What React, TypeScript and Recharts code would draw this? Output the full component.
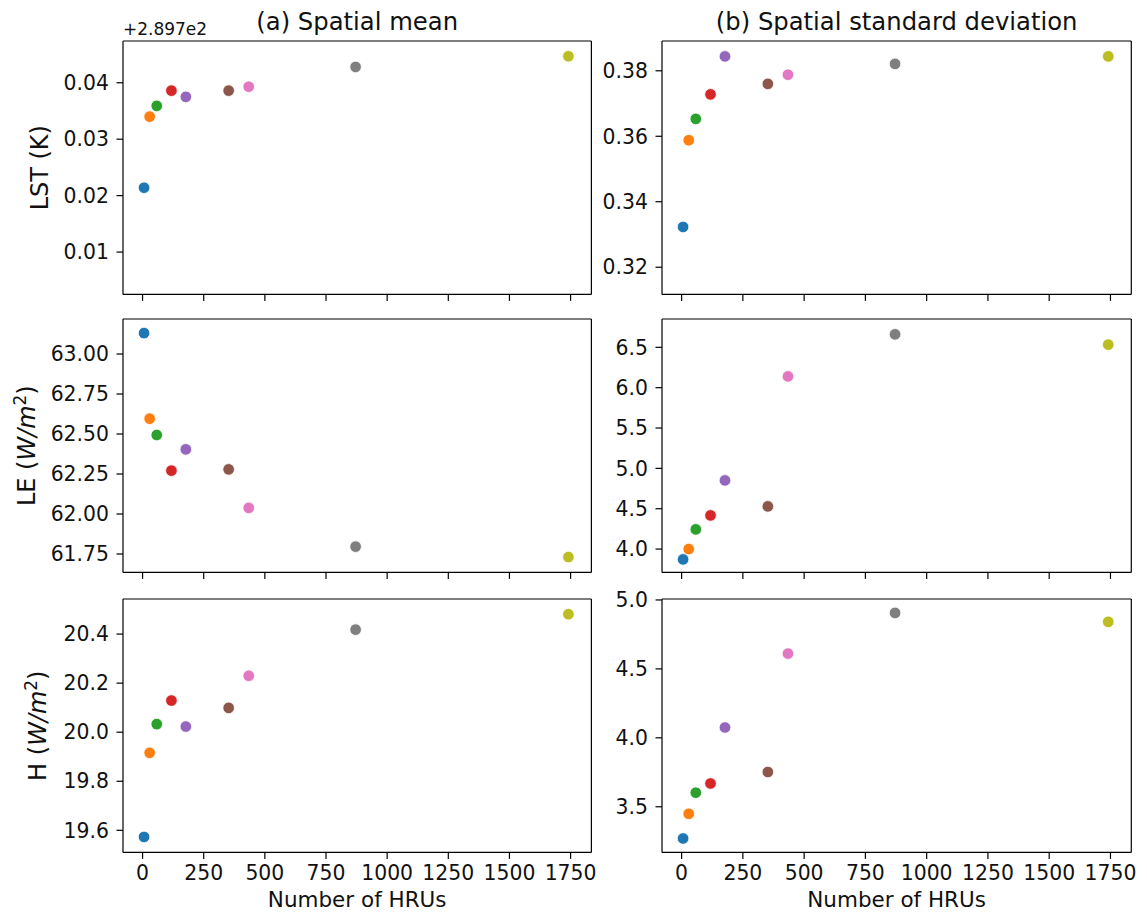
import React from "react"
import { ScatterChart, Scatter, XAxis, YAxis } from "recharts"

// HRU counts of the nine model configurations
const hrus = [6, 29, 58, 118, 177, 352, 434, 871, 1741]

// land surface temperature (K)
const lstMean = [289.7214, 289.734, 289.7359, 289.7386, 289.7375, 289.7386, 289.7393, 289.7428, 289.7447]
const lstStd = [0.3323, 0.3588, 0.3653, 0.3728, 0.3844, 0.376, 0.3788, 0.3821, 0.3844]
// latent heat (W/m2)
const leMean = [63.131, 62.596, 62.494, 62.271, 62.404, 62.279, 62.038, 61.796, 61.731]
const leStd = [3.872, 4.0, 4.244, 4.417, 4.851, 4.529, 6.14, 6.661, 6.533]
// sensible heat (W/m2)
const hMean = [19.573, 19.916, 20.033, 20.129, 20.023, 20.099, 20.23, 20.418, 20.481]
const hStd = [3.27, 3.449, 3.602, 3.669, 4.075, 3.752, 4.611, 4.906, 4.841]

const xTicks = [0, 250, 500, 750, 1000, 1250, 1500, 1750]
const lstOffset = 289.7
const lstMeanTicks = [289.71, 289.72, 289.73, 289.74]
const lstStdTicks = [0.32, 0.34, 0.36, 0.38]
const leMeanTicks = [61.75, 62.0, 62.25, 62.5, 62.75, 63.0]
const leStdTicks = [4.0, 4.5, 5.0, 5.5, 6.0, 6.5]
const hMeanTicks = [19.6, 19.8, 20.0, 20.2, 20.4]
const hStdTicks = [3.5, 4.0, 4.5, 5.0]

const COLORS = [
  "#1f77b4", "#ff7f0e", "#2ca02c", "#d62728", "#9467bd",
  "#8c564b", "#e377c2", "#7f7f7f", "#bcbd22",
]

const FONT = "'DejaVu Sans', sans-serif"
const INK = "#111"
const X_DOMAIN: [number, number] = [-80, 1835]

// layout of the 3x2 grid (plot-area boxes)
const AXIS_W = 130
const TOP_PAD = 40
const RIGHT_PAD = 10
const X_AXIS_H = 70
const PLOT_H = 253.4
const COLS = [
  { x: 123.3, w: 468.4 },
  { x: 662, w: 469.3 },
]
const ROWS = [40.7, 319.3, 599.3]

const Dot = (props: any) => (
  <circle cx={props.cx} cy={props.cy} r={5.8} fill={props.fill} stroke="#fff" strokeWidth={0.8} />
)

const NoTick = () => <g />

type PanelProps = {
  col: number
  row: number
  values: number[]
  domain: [number, number]
  ticks: number[]
  fmt: (v: number) => string
  yLabel?: React.ReactNode
  yLabelGap?: number
  title?: string
  offsetText?: string
  showXLabels?: boolean
}

function Panel({ col, row, values, domain, ticks, fmt, yLabel, yLabelGap = 75, title, offsetText, showXLabels }: PanelProps) {
  const { x, w } = COLS[col]
  const y = ROWS[row]
  const points = hrus.map((h, i) => ({ x: h, y: values[i] }))
  const frame = { stroke: "#000", strokeWidth: 1.2 }
  const tickFont = { fontSize: 20.4, fill: INK, fontFamily: FONT }

  return (
    <div style={{ position: "absolute", left: x - AXIS_W, top: y - TOP_PAD }}>
      <ScatterChart
        width={AXIS_W + w + RIGHT_PAD}
        height={TOP_PAD + PLOT_H + X_AXIS_H}
        margin={{ top: TOP_PAD - 1, right: RIGHT_PAD - 1, left: 0, bottom: 0 }}
      >
        <XAxis
          type="number"
          dataKey="x"
          domain={X_DOMAIN}
          ticks={xTicks}
          allowDataOverflow
          height={X_AXIS_H}
          tickSize={6.5}
          tickMargin={7}
          axisLine={frame}
          tickLine={frame}
          tick={showXLabels ? tickFont : NoTick}
          label={
            showXLabels
              ? {
                  content: () => (
                    <text x={AXIS_W + w / 2} y={TOP_PAD + PLOT_H + 54.3} textAnchor="middle" fontSize={21.5} fontFamily={FONT} fill={INK}>
                      Number of HRUs
                    </text>
                  ),
                }
              : undefined
          }
        />
        {/* top and right spines close the box */}
        <XAxis
          xAxisId="top"
          orientation="top"
          type="number"
          domain={X_DOMAIN}
          allowDataOverflow
          height={1}
          tick={false}
          tickLine={false}
          axisLine={frame}
          label={{
            content: () => (
              <g>
                {title && (
                  <text x={AXIS_W + w / 2} y={TOP_PAD - 10.7} textAnchor="middle" fontSize={24.3} fontFamily={FONT} fill={INK}>
                    {title}
                  </text>
                )}
                {offsetText && (
                  <text x={AXIS_W} y={TOP_PAD - 5.7} fontSize={17} fontFamily={FONT} fill={INK}>
                    {offsetText}
                  </text>
                )}
              </g>
            ),
          }}
        />
        <YAxis
          type="number"
          dataKey="y"
          domain={domain}
          ticks={ticks}
          allowDataOverflow
          width={AXIS_W}
          tickSize={6.5}
          tickMargin={7.5}
          axisLine={frame}
          tickLine={frame}
          tick={tickFont}
          tickFormatter={fmt}
          label={
            yLabel
              ? {
                  content: () => {
                    const lx = AXIS_W - yLabelGap
                    const ly = TOP_PAD + PLOT_H / 2
                    return (
                      <text
                        x={lx}
                        y={ly}
                        transform={`rotate(-90, ${lx}, ${ly})`}
                        textAnchor="middle"
                        fontSize={24}
                        fontFamily={FONT}
                        fill={INK}
                      >
                        {yLabel}
                      </text>
                    )
                  },
                }
              : undefined
          }
        />
        <YAxis
          yAxisId="right"
          orientation="right"
          type="number"
          domain={domain}
          allowDataOverflow
          width={1}
          tick={false}
          tickLine={false}
          axisLine={frame}
        />
        {points.map((p, i) => (
          <Scatter key={i} data={[p]} fill={COLORS[i]} shape={Dot} isAnimationActive={false} />
        ))}
      </ScatterChart>
    </div>
  )
}

const fluxLabel = (name: string) => (
  <>
    {name} (<tspan fontStyle="italic">W/m</tspan>
    <tspan dy={-9} fontSize={17}>2</tspan>
    <tspan dy={9}>)</tspan>
  </>
)

export default function App() {
  const f1 = (v: number) => v.toFixed(1)
  const f2 = (v: number) => v.toFixed(2)
  return (
    <div style={{ position: "absolute", left: 0, top: 0, width: 1147, height: 915, background: "#fff", overflow: "hidden" }}>
      <Panel
        col={0}
        row={0}
        values={lstMean}
        domain={[289.7025, 289.7474]}
        ticks={lstMeanTicks}
        fmt={(v) => (v - lstOffset).toFixed(2)}
        yLabel="LST (K)"
        yLabelGap={74.7}
        title="(a) Spatial mean"
        offsetText="+2.897e2"
      />
      <Panel
        col={1}
        row={0}
        values={lstStd}
        domain={[0.3117, 0.3891]}
        ticks={lstStdTicks}
        fmt={f2}
        title="(b) Spatial standard deviation"
      />
      <Panel
        col={0}
        row={1}
        values={leMean}
        domain={[61.635, 63.219]}
        ticks={leMeanTicks}
        fmt={f2}
        yLabel={fluxLabel("LE")}
        yLabelGap={88}
      />
      <Panel col={1} row={1} values={leStd} domain={[3.711, 6.851]} ticks={leStdTicks} fmt={f1} />
      <Panel
        col={0}
        row={2}
        values={hMean}
        domain={[19.51, 20.543]}
        ticks={hMeanTicks}
        fmt={f1}
        yLabel={fluxLabel("H")}
        yLabelGap={76.6}
        showXLabels
      />
      <Panel col={1} row={2} values={hStd} domain={[3.169, 5.007]} ticks={hStdTicks} fmt={f1} showXLabels />
    </div>
  )
}
